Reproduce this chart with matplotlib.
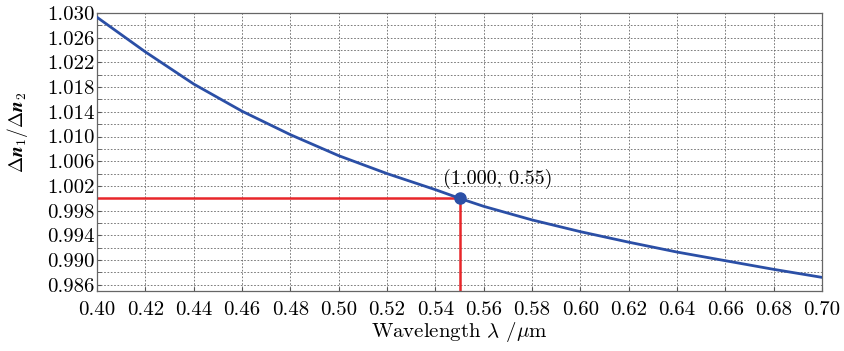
import matplotlib
matplotlib.use("Agg")
import matplotlib.pyplot as plt
import numpy as np

wavelength = [0.40, 0.42, 0.44, 0.46, 0.48, 0.50, 0.52, 0.54, 0.55, 0.56, 0.58, 0.60, 0.62, 0.64, 0.66, 0.68, 0.70]
ratio = [1.0293, 1.0237, 1.0185, 1.0141, 1.0103, 1.0069, 1.0040, 1.0014, 1.0000, 0.9987, 0.9965, 0.9946, 0.9929, 0.9913, 0.9899, 0.9885, 0.9872]
point_x, point_y = 0.55, 1.000
x_ticks = [0.40, 0.42, 0.44, 0.46, 0.48, 0.50, 0.52, 0.54, 0.56, 0.58, 0.60, 0.62, 0.64, 0.66, 0.68, 0.70]
y_ticks = [0.986, 0.990, 0.994, 0.998, 1.002, 1.006, 1.010, 1.014, 1.018, 1.022, 1.026, 1.030]
y_minor = [0.988, 0.992, 0.996, 1.000, 1.004, 1.008, 1.012, 1.016, 1.020, 1.024, 1.028]

plt.rcParams['font.family'] = ['cmr10', 'DejaVu Serif']
plt.rcParams['mathtext.fontset'] = 'cm'
plt.rcParams['axes.formatter.use_mathtext'] = True

fig = plt.figure(figsize=(8.44, 3.51), dpi=100)
ax = fig.add_axes([0.115, 0.171, 0.859, 0.792])

ax.set_xlim(0.40, 0.70)
ax.set_ylim(0.985, 1.030)

ax.plot(wavelength, ratio, color='#2b4fa6', lw=2.0, zorder=3)
ax.plot([0.40, point_x], [point_y, point_y], color='#e8262a', lw=1.8, zorder=2)
ax.plot([point_x, point_x], [0.985, point_y], color='#e8262a', lw=1.8, zorder=2)
ax.plot([point_x], [point_y], marker='o', ms=8, color='#2b4fa6', zorder=4)
ax.annotate('(1.000, 0.55)', xy=(point_x, point_y), xytext=(-12, 7), textcoords='offset points',
            fontsize=14.5, ha='left', va='bottom')

ax.set_xticks(x_ticks)
ax.set_xticklabels([f'{v:.2f}' for v in x_ticks])
ax.set_yticks(y_ticks)
ax.set_yticklabels([f'{v:.3f}' for v in y_ticks])
ax.set_yticks(y_minor, minor=True)
ax.tick_params(axis='both', which='both', direction='in', labelsize=15, color='#555555', length=3)
ax.tick_params(axis='x', pad=7)
ax.tick_params(axis='y', pad=2)

ax.grid(True, which='both', color='#666666', linestyle=(0, (2, 2)), lw=0.6)
for s in ax.spines.values():
    s.set_color('#666666')
    s.set_linewidth(0.9)

ax.set_xlabel('Wavelength $\\lambda$ /$\\mathrm{\\mu}$m', fontsize=15, labelpad=1)
ax.set_ylabel('$\\Delta \\boldsymbol{n}_1/\\Delta \\boldsymbol{n}_2$', fontsize=14, labelpad=3)
ax.yaxis.set_label_coords(-0.092, 0.57)

fig.savefig('out.png', dpi=100)
